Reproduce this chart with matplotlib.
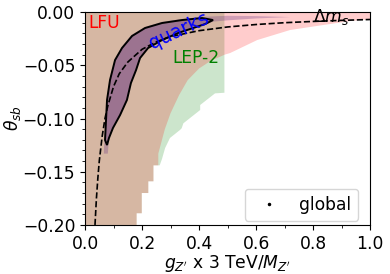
import numpy as np
import matplotlib
matplotlib.use("Agg")
import matplotlib.pyplot as plt
from matplotlib.ticker import MultipleLocator

# LFU allowed region
lfu_x = [0.0, 1.0, 1.0, 0.93, 0.835, 0.719, 0.604, 0.509, 0.49, 0.44, 0.40, 0.36,
         0.33, 0.30, 0.28, 0.265, 0.257, 0.257, 0.240, 0.240, 0.222, 0.222,
         0.199, 0.199, 0.181, 0.181, 0.0]
lfu_y = [0.0, 0.0, -0.0066, -0.0085, -0.0122, -0.0169, -0.0263, -0.0385, -0.040,
         -0.046, -0.053, -0.064, -0.078, -0.095, -0.110, -0.125, -0.133, -0.144,
         -0.144, -0.159, -0.159, -0.170, -0.170, -0.189, -0.189, -0.200, -0.200]

# LEP-2 allowed region
lep_x = [0.0, 0.489, 0.489, 0.456, 0.404, 0.404, 0.345, 0.339, 0.333, 0.298,
         0.281, 0.270, 0.262, 0.240, 0.240, 0.222, 0.222, 0.199, 0.199, 0.181,
         0.181, 0.0]
lep_y = [0.0, 0.0, -0.0758, -0.0764, -0.0873, -0.092, -0.1045, -0.1092, -0.1108,
         -0.1183, -0.1277, -0.138, -0.144, -0.144, -0.159, -0.159, -0.170, -0.170,
         -0.189, -0.189, -0.200, -0.200]

# quarks fit: outlined region
quark_x = [0.0772, 0.0702, 0.0737, 0.0772, 0.0877, 0.1053, 0.1298, 0.1649, 0.2105,
           0.2702, 0.3404, 0.4105, 0.4491, 0.4211, 0.3263, 0.2702, 0.2211, 0.193,
           0.179, 0.161, 0.147, 0.123, 0.098, 0.084]
quark_y = [-0.1249, -0.1202, -0.1014, -0.0826, -0.0638, -0.0451, -0.0338, -0.0225,
           -0.0150, -0.0103, -0.0075, -0.0056, -0.0075, -0.0113, -0.0197, -0.0263,
           -0.0338, -0.0432, -0.0545, -0.0667, -0.0826, -0.0967, -0.1089, -0.1183]

# quarks fit: wider shaded region with tails
quark2_x = [0.066, 0.068, 0.072, 0.076, 0.086, 0.104, 0.128, 0.163, 0.21, 0.27,
            0.34, 0.41, 0.50, 0.60, 0.72, 0.60, 0.50, 0.449, 0.4211, 0.3263, 0.2702,
            0.2211, 0.193, 0.179, 0.161, 0.147, 0.123, 0.098, 0.084, 0.080]
quark2_y = [-0.133, -0.120, -0.101, -0.0826, -0.0638, -0.045, -0.033, -0.0215, -0.014,
            -0.0092, -0.0065, -0.0045, -0.0035, -0.0038, -0.0047, -0.0060, -0.0078,
            -0.0090, -0.0118, -0.0197, -0.0263, -0.0338, -0.0432, -0.0545, -0.0667,
            -0.0826, -0.0967, -0.1089, -0.1183, -0.133]

# Delta m_s bound
dms_x = [0.035, 0.040, 0.045, 0.050, 0.060, 0.070, 0.080, 0.10, 0.12, 0.15, 0.20,
         0.25, 0.30, 0.40, 0.50, 0.60, 0.70, 0.80, 0.90, 1.00]
dms_y = [-0.200, -0.175, -0.156, -0.140, -0.117, -0.100, -0.088, -0.070, -0.058,
         -0.047, -0.035, -0.028, -0.023, -0.0175, -0.014, -0.0117, -0.010, -0.0088,
         -0.0078, -0.007]

plt.rcParams["font.size"] = 12.3

fig = plt.figure(figsize=(3.9, 2.74), dpi=100)
ax = fig.add_subplot(111)
fig.subplots_adjust(left=0.218, right=0.949, bottom=0.179, top=0.956)

qcol = (0.4, 0.2, 0.5)
ax.fill(lep_x, lep_y, color="green", alpha=0.2, lw=0)
ax.fill(lfu_x, lfu_y, color="red", alpha=0.2, lw=0)
ax.fill(quark2_x, quark2_y, color=qcol, alpha=0.3, lw=0)
ax.fill(quark_x, quark_y, color=qcol, alpha=0.3, lw=0)
ax.fill(quark_x, quark_y, fill=False, ec="k", lw=1.4)
ax.plot(dms_x, dms_y, "k--", lw=1.2)

ax.plot([], [], "k.", markersize=3, label="global")

ax.text(0.0105, -0.0150, "LFU", color="red")
ax.text(0.305, -0.0479, "LEP-2", color="green")
ax.text(0.33, -0.0180, "quarks", color="blue", rotation=25, ha="center", va="center",
        fontsize=13.5)
ax.text(0.8, -0.0094, r"$\Delta m_s$")

ax.set_xlim(0, 1)
ax.set_ylim(-0.2, 0)
ax.xaxis.set_major_locator(MultipleLocator(0.2))
ax.xaxis.set_minor_locator(MultipleLocator(0.1))
ax.yaxis.set_major_locator(MultipleLocator(0.05))
ax.yaxis.set_minor_locator(MultipleLocator(0.01))
ax.set_xlabel(r"$g_{Z'}$ x 3 TeV/$M_{Z'}$", labelpad=0)
ax.set_ylabel(r"$\theta_{sb}$", labelpad=0)
ax.legend(loc="lower right", bbox_to_anchor=(0.959, 0.02), borderaxespad=0)

plt.savefig("out.png", dpi=100)
